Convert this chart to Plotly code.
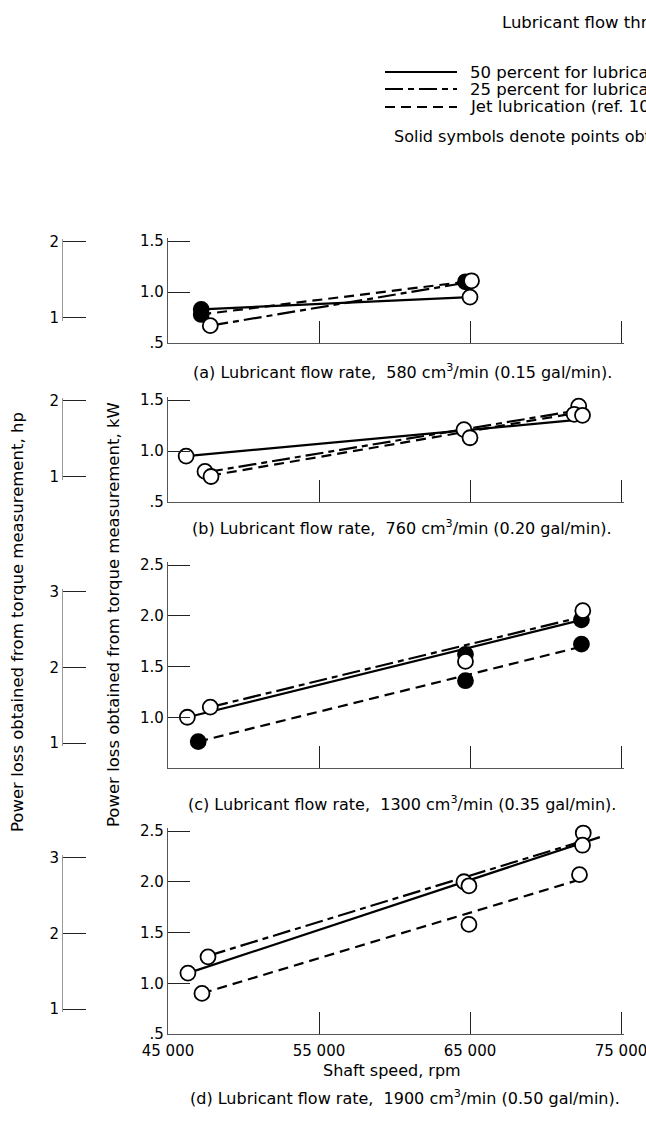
import plotly.graph_objects as go

W, H = 646, 1130
KW_PER_HP = 0.7457
FONT = "DejaVu Sans"

# ---------------- data ----------------
x_tickvals = [45000, 55000, 65000, 75000]
x_ticktext = ["45 000", "55 000", "65 000", "75 000"]

captions = [
    "(a) Lubricant flow rate,  580 cm<sup>3</sup>/min (0.15 gal/min).",
    "(b) Lubricant flow rate,  760 cm<sup>3</sup>/min (0.20 gal/min).",
    "(c) Lubricant flow rate,  1300 cm<sup>3</sup>/min (0.35 gal/min).",
    "(d) Lubricant flow rate,  1900 cm<sup>3</sup>/min (0.50 gal/min).",
]
kw_ranges = [[0.5, 1.5], [0.5, 1.5], [0.5, 2.5], [0.5, 2.5]]
kw_tickvals = [[0.5, 1.0, 1.5], [0.5, 1.0, 1.5], [1.0, 1.5, 2.0, 2.5], [0.5, 1.0, 1.5, 2.0, 2.5]]
kw_ticktext = [[".5", "1.0", "1.5"], [".5", "1.0", "1.5"], ["1.0", "1.5", "2.0", "2.5"],
               [".5", "1.0", "1.5", "2.0", "2.5"]]
hp_tickvals = [[1, 2], [1, 2], [1, 2, 3], [1, 2, 3]]

# measured points (speed rpm, power kW, filled flag)
a_speed = [47200, 47200, 47800, 64700, 65100, 65000]
a_power = [0.83, 0.78, 0.67, 1.10, 1.11, 0.95]
a_filled = [1, 1, 0, 1, 0, 0]

b_speed = [46200, 47450, 47850, 64600, 65000, 72200, 71900, 72450]
b_power = [0.95, 0.80, 0.75, 1.21, 1.13, 1.44, 1.36, 1.35]
b_filled = [0, 0, 0, 0, 0, 0, 0, 0]

c_speed = [46280, 47800, 47000, 64700, 64700, 64700, 72470, 72380, 72380]
c_power = [1.00, 1.10, 0.76, 1.62, 1.55, 1.36, 2.05, 1.96, 1.72]
c_filled = [0, 0, 1, 1, 0, 1, 0, 1, 1]

d_speed = [46320, 47650, 47250, 64600, 64930, 64930, 72500, 72450, 72250]
d_power = [1.10, 1.26, 0.90, 2.00, 1.96, 1.58, 2.48, 2.36, 2.07]
d_filled = [0, 0, 0, 0, 0, 0, 0, 0, 0]

# faired lines (start/end speed, start/end power)
a_solid_x, a_solid_y = [47200, 65000], [0.83, 0.95]
a_dd_x, a_dd_y = [47800, 65100], [0.67, 1.10]
a_jet_x, a_jet_y = [47200, 64700], [0.78, 1.10]

b_solid_x, b_solid_y = [46200, 72450], [0.95, 1.31]
b_dd_x, b_dd_y = [47450, 72200], [0.79, 1.40]
b_jet_x, b_jet_y = [47850, 72300], [0.76, 1.38]

c_solid_x, c_solid_y = [46280, 72400], [1.00, 1.96]
c_dd_x, c_dd_y = [47800, 72450], [1.10, 1.99]
c_jet_x, c_jet_y = [47000, 72500], [0.76, 1.70]

d_solid_x, d_solid_y = [46320, 73600], [1.10, 2.44]
d_dd_x, d_dd_y = [47650, 72450], [1.27, 2.40]
d_jet_x, d_jet_y = [47250, 72250], [0.90, 2.02]

legend_title = "Lubricant flow through inner-race slots"
legend_names = [
    "50 percent for lubrication, 50 percent for cooling",
    "25 percent for lubrication, 75 percent for cooling",
    "Jet lubrication (ref. 10)",
]
legend_note = "Solid symbols denote points obtained with larger bearing clearance"

points = [(a_speed, a_power, a_filled), (b_speed, b_power, b_filled),
          (c_speed, c_power, c_filled), (d_speed, d_power, d_filled)]
lines = [
    [(a_solid_x, a_solid_y), (a_dd_x, a_dd_y), (a_jet_x, a_jet_y)],
    [(b_solid_x, b_solid_y), (b_dd_x, b_dd_y), (b_jet_x, b_jet_y)],
    [(c_solid_x, c_solid_y), (c_dd_x, c_dd_y), (c_jet_x, c_jet_y)],
    [(d_solid_x, d_solid_y), (d_dd_x, d_dd_y), (d_jet_x, d_jet_y)],
]

# ---------------- layout geometry (pixels) ----------------
X0, X1 = 168, 621                      # pixel of 45 000 and 75 000 rpm
panel_px = [(241, 343), (400, 502), (565, 768), (831, 1034)]  # (top value, bottom value)
caption_px = [(402, 371), (402, 527), (402, 803), (405, 1097)]
HP_AXIS_X = 62
PAD = 3                                 # px of axis beyond the end ticks so they are drawn
dash_styles = ["solid", "18px,5px,6px,5px", "10px,6px"]
TXT = 16

fig = go.Figure()

def yf(py):
    return 1 - py / H

XMIN, XMAX = x_tickvals[0], x_tickvals[-1]
rpm_per_px = (XMAX - XMIN) / (X1 - X0)

for i in range(4):
    n = i + 1
    xa, ya, yh = f"x{n}", f"y{n}", f"y{n + 4}"
    for k, (lx, ly) in enumerate(lines[i]):
        fig.add_trace(go.Scatter(
            x=lx, y=ly, mode="lines", xaxis=xa, yaxis=ya, cliponaxis=False,
            line=dict(color="black", width=2.2, dash=dash_styles[k]),
            name=legend_names[k], showlegend=False, hoverinfo="skip"))
    sp, pw, fl = points[i]
    for filled in (1, 0):
        xs = [s for s, f in zip(sp, fl) if f == filled]
        ys = [p for p, f in zip(pw, fl) if f == filled]
        if xs:
            fig.add_trace(go.Scatter(
                x=xs, y=ys, mode="markers", xaxis=xa, yaxis=ya, showlegend=False,
                cliponaxis=False,
                marker=dict(symbol="circle", size=15,
                            color="black" if filled else "white",
                            line=dict(color="black", width=1.8))))
    # empty trace so the hp axis is drawn
    fig.add_trace(go.Scatter(x=[None], y=[None], xaxis=xa, yaxis=yh, showlegend=False))

    top, bot = panel_px[i]
    lo, hi = kw_ranges[i]
    kw_per_px = (hi - lo) / (bot - top)
    kw_to_px = lambda v: bot - (v - lo) / kw_per_px
    hp_lo, hp_hi = hp_tickvals[i][0], hp_tickvals[i][-1]
    hp_top_px = kw_to_px(hp_hi * KW_PER_HP)
    hp_bot_px = kw_to_px(hp_lo * KW_PER_HP)
    hp_per_px = (hp_hi - hp_lo) / (hp_bot_px - hp_top_px)

    fig.update_layout(**{
        f"xaxis{n}": dict(
            domain=[X0 / W, (X1 + PAD) / W], range=[XMIN, XMAX + PAD * rpm_per_px],
            anchor=ya, automargin=False,
            tickvals=x_tickvals, ticktext=x_ticktext, showticklabels=(i == 3),
            ticklabeloverflow="allow", ticklabelstandoff=3,
            ticks="inside", ticklen=22, tickwidth=1.2, tickcolor="#222",
            showline=True, linecolor="#555", linewidth=1.2,
            showgrid=False, zeroline=False,
            tickfont=dict(family=FONT, size=15, color="black")),
        f"yaxis{n}": dict(
            domain=[yf(bot), yf(top - PAD)], range=[lo, hi + PAD * kw_per_px], anchor=xa,
            automargin=False,
            tickvals=kw_tickvals[i], ticktext=kw_ticktext[i],
            ticks="inside", ticklen=22, tickwidth=1.2, tickcolor="#222",
            showline=True, linecolor="#555", linewidth=1.2,
            showgrid=False, zeroline=False,
            tickfont=dict(family=FONT, size=15, color="black")),
        f"yaxis{n + 4}": dict(
            domain=[yf(hp_bot_px + PAD), yf(hp_top_px - PAD)],
            range=[hp_lo - PAD * hp_per_px, hp_hi + PAD * hp_per_px],
            anchor="free", position=HP_AXIS_X / W, automargin=False,
            tickvals=hp_tickvals[i], ticks="inside", ticklen=23, tickwidth=1.2,
            tickcolor="#222", showline=True, linecolor="#999", linewidth=1,
            showgrid=False, zeroline=False,
            tickfont=dict(family=FONT, size=15, color="black")),
    })
    cx, cy = caption_px[i]
    fig.add_annotation(x=cx / W, y=yf(cy), xref="paper", yref="paper",
                       text=captions[i], showarrow=False,
                       xanchor="center", yanchor="middle",
                       font=dict(family=FONT, size=TXT, color="black"))

fig.add_annotation(x=392 / W, y=yf(1070), xref="paper", yref="paper",
                   xanchor="center", yanchor="middle",
                   text="Shaft speed, rpm", showarrow=False,
                   font=dict(family=FONT, size=TXT, color="black"))

# axis titles
fig.add_annotation(x=17 / W, y=yf(622), xref="paper", yref="paper", textangle=-90,
                   xanchor="center", yanchor="middle",
                   text="Power loss obtained from torque measurement, hp", showarrow=False,
                   font=dict(family=FONT, size=16.5, color="black"))
fig.add_annotation(x=113 / W, y=yf(615), xref="paper", yref="paper", textangle=-90,
                   xanchor="center", yanchor="middle",
                   text="Power loss obtained from torque measurement, kW", showarrow=False,
                   font=dict(family=FONT, size=16.5, color="black"))

# legend (drawn by hand so it can run off the right edge as in the reference)
fig.add_annotation(x=500 / W, y=yf(23), xref="paper", yref="paper",
                   xanchor="left", yanchor="middle",
                   text=legend_title, showarrow=False,
                   font=dict(family=FONT, size=16.5, color="black"))
leg_rows = [72, 89, 107]
for k in range(3):
    fig.add_shape(type="line", xref="paper", yref="paper",
                  x0=385 / W, x1=457 / W, y0=yf(leg_rows[k]), y1=yf(leg_rows[k]),
                  line=dict(color="black", width=2.2, dash=dash_styles[k]))
    fig.add_annotation(x=468 / W, y=yf(leg_rows[k]), xref="paper", yref="paper",
                       xanchor="left", yanchor="middle", text=legend_names[k],
                       showarrow=False, font=dict(family=FONT, size=16.5, color="black"))
fig.add_annotation(x=392 / W, y=yf(136), xref="paper", yref="paper",
                   xanchor="left", yanchor="middle", text=legend_note,
                   showarrow=False, font=dict(family=FONT, size=16, color="black"))

fig.update_layout(
    width=W, height=H, margin=dict(l=0, r=0, t=0, b=0, autoexpand=False),
    paper_bgcolor="white", plot_bgcolor="rgba(0,0,0,0)",
    font=dict(family=FONT, color="black"),
    showlegend=False,
)

fig.write_html("out.html")
